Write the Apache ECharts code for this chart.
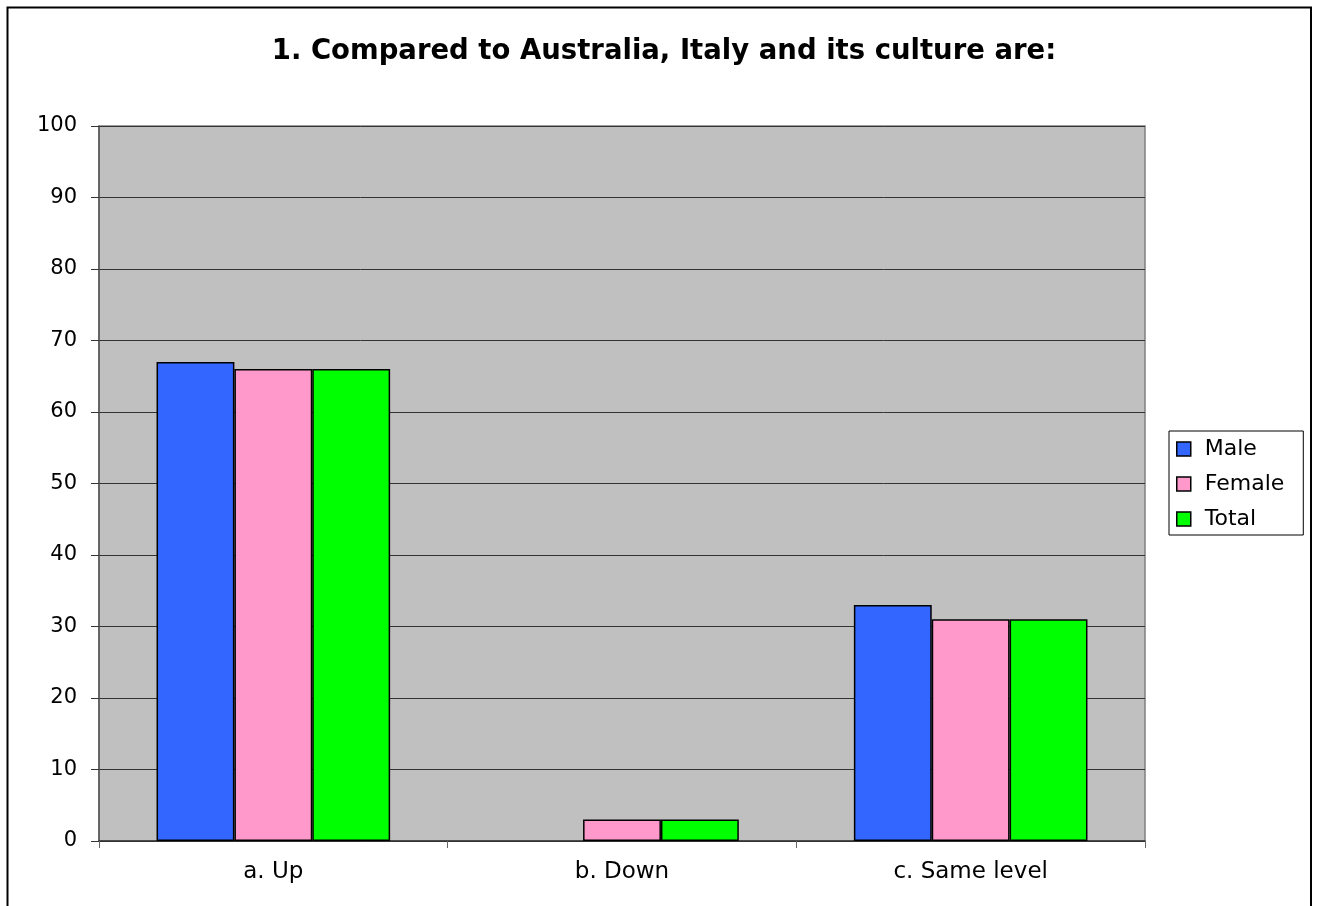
<!DOCTYPE html>
<html>
<head>
<meta charset="utf-8">
<script src="https://cdn.jsdelivr.net/npm/echarts@6/dist/echarts.min.js"></script>
<style>
html,body{margin:0;padding:0;background:#fff;}
#chart{width:1318px;height:906px;}
</style>
</head>
<body>
<div id="chart"></div>
<script>
var titleText = '1. Compared to Australia, Italy and its culture are:';
var categories = ['a. Up', 'b. Down', 'c. Same level'];
var seriesNames = ['Male', 'Female', 'Total'];
var maleValues = [67, '-', 33];
var femaleValues = [66, 3, 31];
var totalValues = [66, 3, 31];
var colors = ['#3366ff', '#ff99cc', '#00ff00'];

var chart = echarts.init(document.getElementById('chart'), null, {renderer: 'canvas'});
var font = '"DejaVu Sans", Verdana, sans-serif';
var dataSets = [maleValues, femaleValues, totalValues];
var series = seriesNames.map(function (n, i) {
  return {
    name: n,
    type: 'bar',
    data: dataSets[i],
    barGap: '0%',
    barCategoryGap: '33%',
    itemStyle: {color: colors[i], borderColor: '#000', borderWidth: 1.5},
    emphasis: {disabled: true}
  };
});

chart.setOption({
  animation: false,
  backgroundColor: '#fff',
  title: {
    text: titleText,
    left: 659,
    textAlign: 'center',
    top: 33,
    textStyle: {fontFamily: font, fontSize: 27.5, fontWeight: 'bold', color: '#000'}
  },
  graphic: [{
    type: 'rect',
    shape: {x: 7.5, y: 7.5, width: 1303.5, height: 910},
    style: {fill: 'none', stroke: '#000', lineWidth: 2},
    silent: true,
    z: 100
  }],
  legend: {
    orient: 'vertical',
    left: 1169,
    top: 431,
    padding: [6, 19, 4, 7],
    itemGap: 11,
    itemWidth: 14,
    itemHeight: 14,
    borderColor: '#000',
    borderWidth: 1,
    backgroundColor: '#fff',
    textStyle: {fontFamily: font, fontSize: 22, lineHeight: 24, color: '#000', padding: [0, 0, 0, 9]},
    itemStyle: {borderColor: '#000', borderWidth: 1.5},
    data: seriesNames.map(function (n) { return {name: n, icon: 'rect'}; })
  },
  grid: {
    left: 99,
    top: 126,
    right: 1318 - 1145,
    bottom: 906 - 841,
    show: true,
    backgroundColor: '#c0c0c0',
    borderColor: '#808080',
    borderWidth: 1.5,
    containLabel: false
  },
  xAxis: {
    type: 'category',
    data: categories,
    axisLine: {lineStyle: {color: '#333', width: 1.5}},
    axisTick: {show: true, length: 7, lineStyle: {color: '#666'}},
    axisLabel: {fontFamily: font, fontSize: 23, color: '#000', margin: 20},
    splitLine: {show: false}
  },
  yAxis: {
    type: 'value',
    min: 0,
    max: 100,
    interval: 10,
    axisLine: {show: true, lineStyle: {color: '#555', width: 1.5}},
    axisTick: {show: true, length: 8, lineStyle: {color: '#333'}},
    axisLabel: {fontFamily: font, fontSize: 21, color: '#000', margin: 22},
    splitLine: {show: true, lineStyle: {color: '#333', width: 1}}
  },
  series: series
});
</script>
</body>
</html>
